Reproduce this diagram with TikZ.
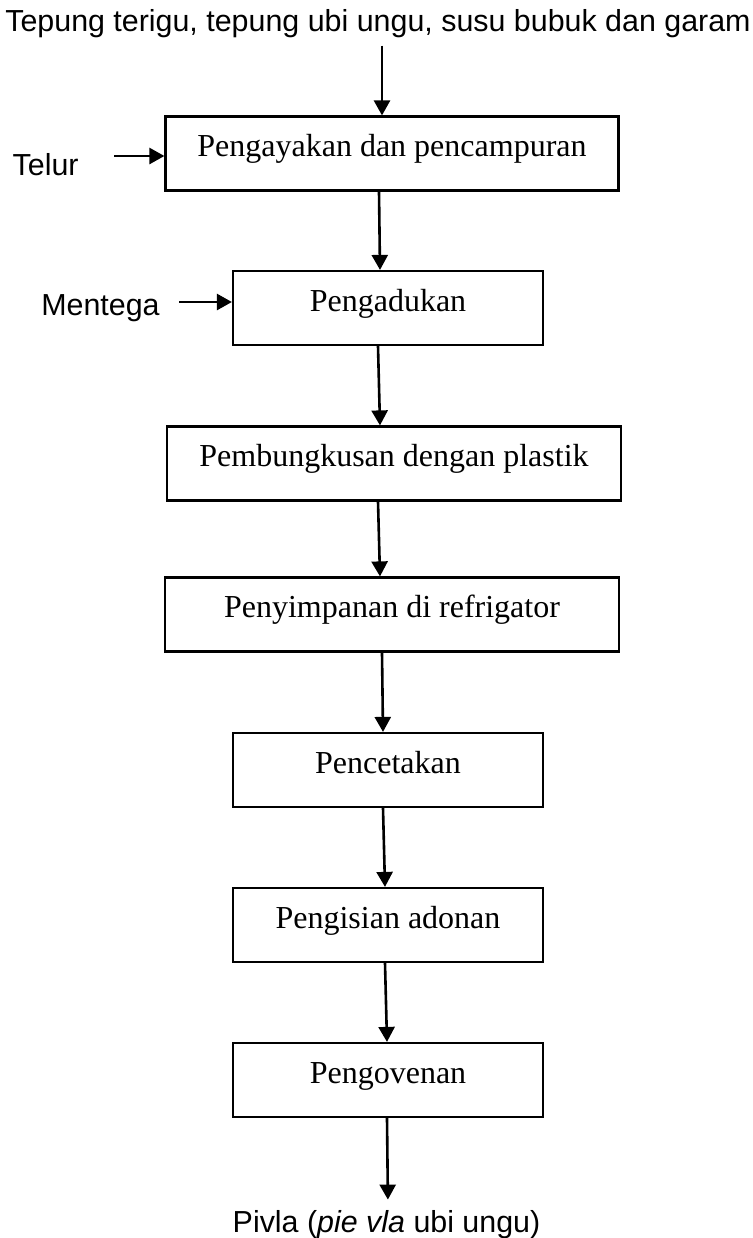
\documentclass[tikz,border=0pt]{standalone}
\usepackage{fontspec}
\setmainfont{Liberation Serif}
\newfontfamily\labelfont{Liberation Sans}
\usetikzlibrary{arrows.meta}

\begin{document}
\begin{tikzpicture}[x=0.5pt,y=-0.5pt,
        procbox/.style={draw,line width=1.1pt,minimum height=37pt,inner sep=0pt,
            text height=10pt,text depth=7pt,font=\fontsize{16}{19}\selectfont},
        lbl/.style={inner sep=0pt,anchor=base,font=\labelfont\fontsize{15.2}{18}\selectfont},
        flow/.style={line width=1.3pt,-{Triangle[length=7.5pt,width=8pt]}}
    ]
        \useasboundingbox (0,0) rectangle (753,1238);
        \foreach \name/\x/\y/\w/\txt in {
            b1/392/153.5/226.5pt/Pengayakan dan pencampuran,
            b2/388/308/155pt/Pengadukan,
            b3/394/463.5/227pt/Pembungkusan dengan plastik,
            b4/392/614.5/227pt/Penyimpanan di refrigator,
            b5/388/770/155pt/Pencetakan,
            b6/388/925/155pt/Pengisian adonan,
            b7/388/1080/155pt/Pengovenan} {
                \node[procbox,minimum width=\w] (\name) at (\x,\y) {\txt};
            }
        \node[lbl] (src) at (378,31) {Tepung terigu, tepung ubi ungu, susu bubuk dan garam};
        \node[lbl,anchor=base east] (telur) at (79,175) {Telur};
        \node[lbl,anchor=base east] (mentega) at (160,315) {Mentega};
        \node[lbl] (pivla) at (386.5,1232) {Pivla (\textit{pie vla} ubi ungu)};
        \draw[flow,shorten <=4pt] (src.south -| 382,0) -- (b1.north -| 382,0);
        \draw[flow,shorten <=17.5pt] (telur.east |- 0,156) -- (b1.west |- 0,156);
        \draw[flow,shorten <=9.5pt] (mentega.east |- 0,302) -- (b2.west |- 0,302);
        \foreach \from/\to/\xa/\xb in {b1/b2/379/380, b2/b3/378/380, b3/b4/378/380,
            b4/b5/382/383, b5/b6/383/385, b6/b7/385/387} {
                \draw[flow] (\from.south -| \xa,0) -- (\to.north -| \xb,0);
            }
        \draw[flow,shorten >=5pt] (b7.south -| 387,0) -- (pivla.north -| 388,0);
    \end{tikzpicture}
\end{document}
